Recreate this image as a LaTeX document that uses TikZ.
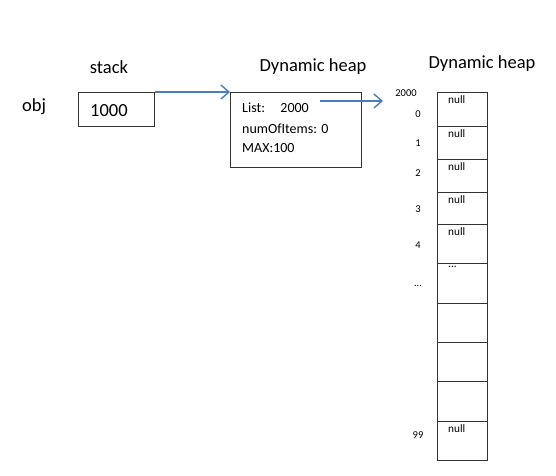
\documentclass[tikz,border=0pt]{standalone}
\usepackage{fontspec}
\setmainfont{Carlito}
\usetikzlibrary{arrows.meta}
\definecolor{ptrblue}{HTML}{4A7EBB}
\tikzset{
  memcell/.style={draw=black!80, line width=0.9pt, anchor=north west, inner sep=0pt},
  bigtext/.style={font=\fontsize{18.5}{20}\selectfont, inner sep=0pt},
  fieldtext/.style={font=\fontsize{14}{16}\selectfont, inner sep=0pt, anchor=west},
  idxtext/.style={font=\fontsize{10.5}{12}\selectfont, inner sep=0pt},
  nulltext/.style={font=\fontsize{11.3}{12}\selectfont, inner sep=0pt, anchor=north west},
  ptr/.style={draw=ptrblue, line width=1.4pt, -{Straight Barb[length=8pt,width=14pt,line width=1.4pt]}}
}
\begin{document}
\begin{tikzpicture}[x=1pt, y=-1pt]
    \useasboundingbox (0,0) rectangle (556,475);

    % Titles
    \node[bigtext] (stacktitle) at (109,67) {stack};
    \node[bigtext] (heaptitle) at (313,67) {Dynamic heap};
    \node[bigtext] (arrtitle) at (482,64) {Dynamic heap};

    % Stack variable
    \node[bigtext] (objname) at (34,107) {obj};
    \node[memcell, minimum width=76pt, minimum height=34pt] (stackbox) at (78,92) {};
    \node[bigtext, anchor=west] (stackval) at (90,111) {1000};

    % Object on the heap
    \node[memcell, minimum width=131pt, minimum height=75pt] (heapobj) at (230,92) {};
    \node[fieldtext] (listfield) at (242,108) {List:\hspace{1.1em}2000};
    \node[fieldtext] (countfield) at (242,129) {numOfItems: 0};
    \node[fieldtext] (maxfield) at (242,148) {MAX:100};

    % Array cells: index/top/height
    \foreach \i/\top/\ht in {0/92/34, 1/126/33, 2/159/33, 3/192/32, 4/224/39,
                             5/263/40, 6/303/39, 7/342/39, 8/381/40, 9/421/39}
      \node[memcell, minimum width=50pt, minimum height=\ht pt] (cell\i) at (437,\top) {};

    % Cell contents
    \foreach \i in {0,1,2,3,4,9}
      \node[nulltext] (null\i) at ([xshift=11pt, yshift=-3pt]cell\i.north west) {null};
    \node[nulltext] (dots5) at ([xshift=11pt, yshift=-3pt]cell5.north west) {...};

    % Indices
    \node[idxtext] (addr) at (406,93) {2000};
    \foreach \lab/\ypos in {0/114, 1/143, 2/173, 3/209, 4/245, 99/435}
      \node[idxtext] (idx\lab) at (418,\ypos) {\lab};
    \node[idxtext] (idxdots) at (418,286) {...};

    % Pointers
    \coordinate (listptr) at (320,101);
    \coordinate (arrtip) at (383,101);
    \draw[ptr] (stackbox.north east) -- (heapobj.north west);
    \draw[ptr] (listptr) -- (arrtip);

\end{tikzpicture}
\end{document}
